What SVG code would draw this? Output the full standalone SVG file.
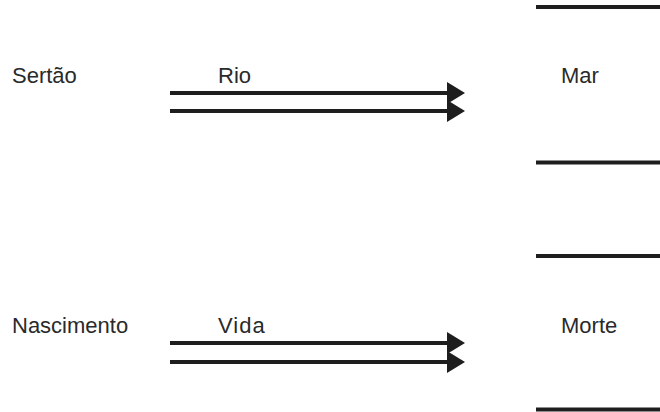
<svg xmlns="http://www.w3.org/2000/svg" width="660" height="412" viewBox="0 0 660 412">
<style>
text{font-family:"Liberation Sans",Arial,sans-serif;font-size:22px;fill:#2a2a2a}
.ln{stroke:#1e1e1e;stroke-width:4;fill:none}
.bar{stroke:#1e1e1e;stroke-width:4}
.ah{fill:#1e1e1e}
</style>
<rect width="660" height="412" fill="#fff"/>
<g id="sertao"><text x="12" y="83">Sertão</text></g>
<g id="nascimento"><text x="12" y="333">Nascimento</text></g>
<g id="mar">
<line class="bar" x1="536" y1="7" x2="660" y2="7"/>
<line class="bar" x1="536" y1="162.5" x2="660" y2="162.5"/>
<text x="561" y="83">Mar</text>
</g>
<g id="morte">
<line class="bar" x1="536" y1="256" x2="660" y2="256"/>
<line class="bar" x1="536" y1="409.5" x2="660" y2="409.5"/>
<text x="561" y="333">Morte</text>
</g>
<g id="connectors">
<text x="218" y="83">Rio</text>
<line class="ln" x1="170" y1="93" x2="450" y2="93"/>
<line class="ln" x1="170" y1="111" x2="450" y2="111"/>
<polygon class="ah" points="447,82 465,93 447,104"/>
<polygon class="ah" points="447,100 465,111 447,122"/>
<text x="218" y="333" letter-spacing="1">Vida</text>
<line class="ln" x1="170" y1="343" x2="450" y2="343"/>
<line class="ln" x1="170" y1="362" x2="450" y2="362"/>
<polygon class="ah" points="447,332 465,343 447,354"/>
<polygon class="ah" points="447,351 465,362 447,373"/>
</g>
</svg>
